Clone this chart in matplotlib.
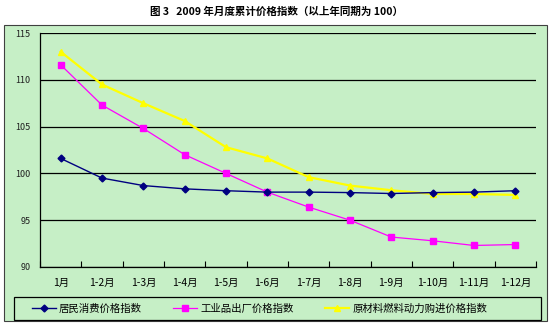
import matplotlib.pyplot as plt
from matplotlib.patches import Rectangle

plt.rcParams['font.family'] = ['Noto Sans CJK SC', 'DejaVu Sans']

# --- Dane ---
months = ["1月", "1-2月", "1-3月", "1-4月", "1-5月", "1-6月",
          "1-7月", "1-8月", "1-9月", "1-10月", "1-11月", "1-12月"]
cpi = [101.6, 99.5, 98.7, 98.35, 98.15, 98.0, 98.0, 97.95, 97.85, 97.95, 98.0, 98.15]
ppi = [111.6, 107.3, 104.8, 102.0, 100.0, 98.0, 96.4, 95.0, 93.2, 92.8, 92.3, 92.4]
raw = [113.0, 109.5, 107.5, 105.6, 102.8, 101.6, 99.6, 98.7, 98.2, 97.8, 97.8, 97.7]

labels = ["居民消费价格指数", "工业品出厂价格指数", "原材料燃料动力购进价格指数"]
title = "图 3   2009 年月度累计价格指数（以上年同期为 100）"

green = "#C6EFC6"
W, H = 554, 326

fig = plt.figure(figsize=(W / 100, H / 100), dpi=100)
fig.patch.set_facecolor("white")

# ramka obszaru wykresu i ramka legendy
fig.patches.append(Rectangle((4 / W, 1 - 321 / H), 543 / W, 296 / H,
                             transform=fig.transFigure, facecolor=green,
                             edgecolor="#404040", linewidth=0.8, zorder=-10))
fig.patches.append(Rectangle((14 / W, 1 - 320 / H), 527 / W, 23 / H,
                             transform=fig.transFigure, facecolor="none",
                             edgecolor="black", linewidth=0.9, zorder=-9))

fig.text(0.5, 1 - 12 / H, title, ha="center", va="center",
         fontsize=7.6, fontweight="bold")

ax = fig.add_axes([40 / W, 1 - 267 / H, 496 / W, 234 / H])
ax.set_facecolor(green)

x = list(range(len(months)))
ax.plot(x, raw, color="#FFFF00", lw=1.6, marker="^", ms=5, zorder=2, label=labels[2])
ax.plot(x, ppi, color="#FF00FF", lw=0.9, marker="s", ms=5, zorder=3, label=labels[1])
ax.plot(x, cpi, color="#000080", lw=1.0, marker="D", ms=3.5, zorder=4, label=labels[0])

ax.set_xlim(-0.5, len(months) - 0.5)
ax.set_ylim(90, 115)
ax.set_yticks(range(90, 116, 5))
ax.yaxis.grid(True, color="black", lw=0.9)
ax.set_axisbelow(True)

ax.set_xticks([i + 0.5 for i in range(-1, len(months))])
ax.set_xticklabels([])
ax.set_xticks(x, minor=True)
ax.set_xticklabels(months, minor=True, fontsize=7.5)
ax.tick_params(axis="x", which="major", length=4, direction="in", width=0.8)
ax.tick_params(axis="x", which="minor", length=0, pad=8)
ax.tick_params(axis="y", length=0, pad=7, labelsize=6.5, labelcolor="#202020")

for s in ["top", "right"]:
    ax.spines[s].set_visible(False)
for s in ["left", "bottom"]:
    ax.spines[s].set_linewidth(0.9)

handles, lbls = ax.get_legend_handles_labels()
order = [2, 1, 0]
leg = fig.legend([handles[i] for i in order], [lbls[i] for i in order],
                 loc="center left", bbox_to_anchor=(32 / W, 1 - 308.5 / H),
                 ncol=3, fontsize=7.5, frameon=False,
                 handlelength=2.3, borderaxespad=0, borderpad=0,
                 handletextpad=0.3, columnspacing=3.0)

fig.savefig("out.png", dpi=100)
